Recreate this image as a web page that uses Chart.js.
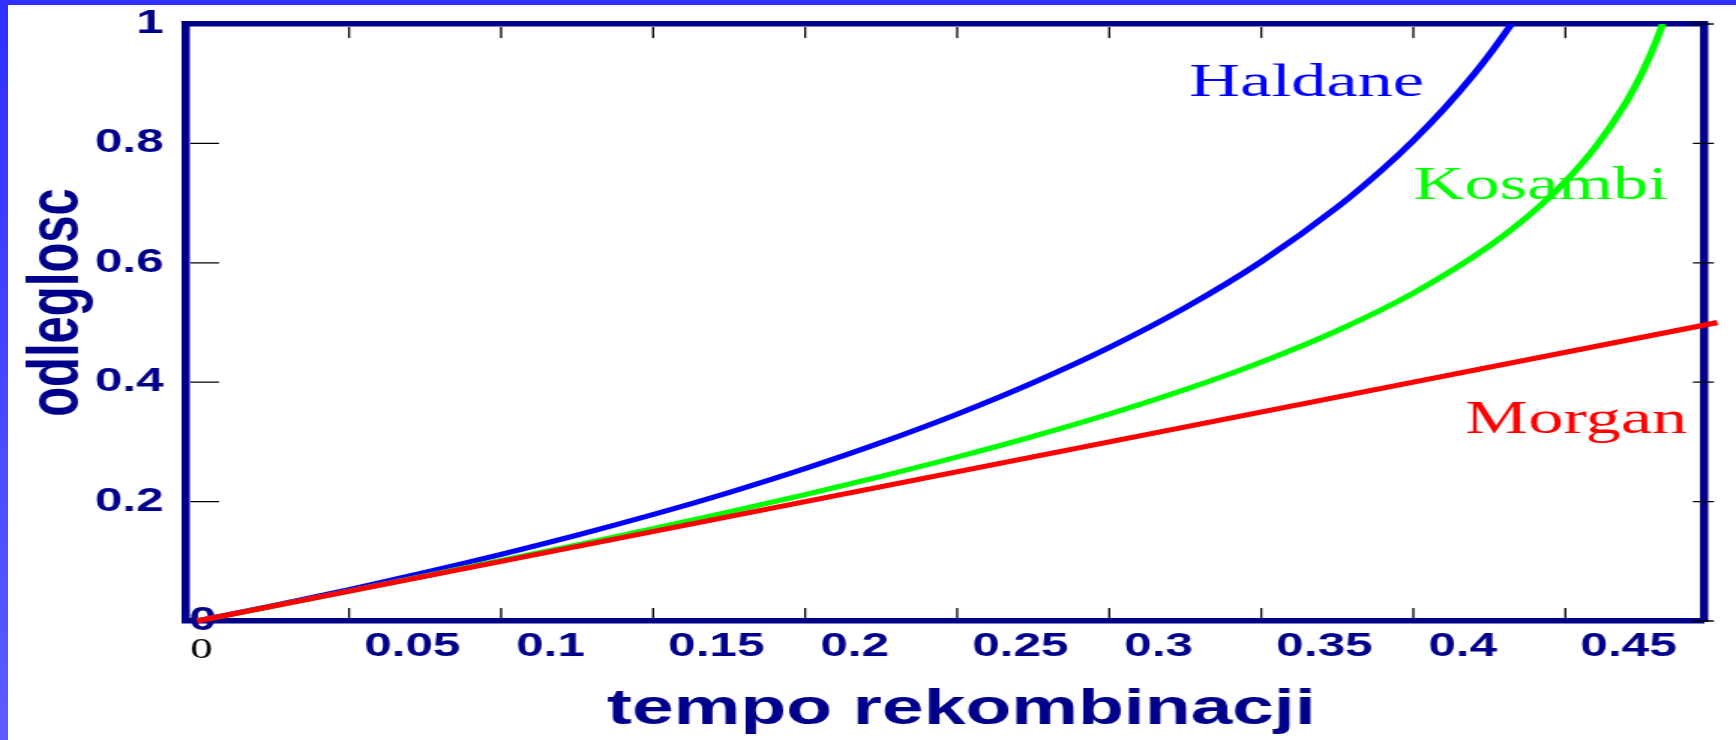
<!DOCTYPE html>
<html>
<head>
<meta charset="utf-8">
<script src="https://cdn.jsdelivr.net/npm/chart.js@4.4.1/dist/chart.umd.min.js"></script>
<style>
  html, body { margin: 0; padding: 0; background: #fff; overflow: hidden; }
  #pasekGora { position: absolute; left: 0; top: 0; width: 1736px; height: 5px; background: #2f2fff; z-index: 2; }
  #pasekLewy { position: absolute; left: 0; top: 0; width: 8px; height: 740px; background: linear-gradient(#2f2fff, #5c5cff); z-index: 2; }
  /* wykres rozciagniety w poziomie, jak w oryginale */
  #ramka { position: absolute; left: 0; top: 0; width: 1157px; height: 740px; transform: scaleX(1.5004); transform-origin: 0 0; }
</style>
</head>
<body>
<div id="pasekGora"></div>
<div id="pasekLewy"></div>
<div id="ramka"><canvas id="wykres" width="1157" height="740"></canvas></div>
<script>
// Dane
const nazwy = ['Haldane', 'Kosambi', 'Morgan'];

const tempoHaldane = [0, 0.025, 0.05, 0.075, 0.1, 0.125, 0.15, 0.175, 0.2, 0.225, 0.25, 0.275, 0.3, 0.325, 0.35, 0.375, 0.39, 0.4, 0.41, 0.42, 0.425, 0.4323];
const odlegloscHaldane = [0, 0.0256, 0.0527, 0.0813, 0.1116, 0.1438, 0.1783, 0.2154, 0.2554, 0.2989, 0.3466, 0.3993, 0.4581, 0.5249, 0.6020, 0.6931, 0.7571, 0.8047, 0.8574, 0.9163, 0.9486, 1.0];

const tempoKosambi = [0, 0.025, 0.05, 0.075, 0.1, 0.125, 0.15, 0.175, 0.2, 0.225, 0.25, 0.275, 0.3, 0.325, 0.35, 0.375, 0.4, 0.425, 0.44, 0.45, 0.46, 0.47, 0.475, 0.48, 0.482];
const odlegloscKosambi = [0, 0.0250, 0.0502, 0.0756, 0.1014, 0.1277, 0.1548, 0.1827, 0.2118, 0.2424, 0.2747, 0.3092, 0.3466, 0.3877, 0.4337, 0.4865, 0.5493, 0.6281, 0.6879, 0.7361, 0.7945, 0.8690, 0.9159, 0.9730, 1.0];

const tempoMorgan = [0, 0.1, 0.2, 0.3, 0.4, 0.5];
const odlegloscMorgan = [0, 0.1, 0.2, 0.3, 0.4, 0.5];

const podzialkaX = [0, 0.05, 0.1, 0.15, 0.2, 0.25, 0.3, 0.35, 0.4, 0.45];
const podzialkaY = [0, 0.2, 0.4, 0.6, 0.8, 1];

const tytulX = 'tempo rekombinacji';
const tytulY = 'odleglosc';

const granat = '#00008b';
const kolory = ['#0000ff', '#00ff00', '#ff0000'];

// Zamienia dwie listy na punkty {x, y}
function punkty(xs, ys) {
    return xs.map((x, i) => ({ x: x, y: ys[i] }));
}

// Kreski podzialki, zera w rogu, tytuly osi i podpisy krzywych
const dodatki = {
    id: 'dodatki',
    beforeDatasetsDraw(chart) {
        const ctx = chart.ctx;
        const { x, y } = chart.scales;
        const { left, right, top, bottom } = chart.chartArea;
        ctx.save();
        ctx.strokeStyle = '#000';
        ctx.lineWidth = 1.3;
        ctx.beginPath();
        podzialkaX.forEach(v => {
            const px = x.getPixelForValue(v);
            ctx.moveTo(px, bottom - 3);
            ctx.lineTo(px, bottom - 13);
            if (v > 0) {
                ctx.moveTo(px, top + 3);
                ctx.lineTo(px, top + 14);
            }
        });
        podzialkaY.forEach(v => {
            const py = y.getPixelForValue(v);
            if (v > 0 && v < 1) {
                ctx.moveTo(left + 3, py);
                ctx.lineTo(left + 22, py);
            }
            ctx.moveTo(right - 7, py);
            ctx.lineTo(right + 7, py);
        });
        ctx.stroke();

        // zero osi Y i zero osi X przy poczatku ukladu
        ctx.textAlign = 'center';
        ctx.textBaseline = 'middle';
        ctx.fillStyle = granat;
        ctx.font = 'bold 33px "Liberation Sans"';
        ctx.fillText('0', x.getPixelForValue(0) + 4, y.getPixelForValue(0));
        ctx.fillStyle = '#000';
        ctx.font = '30px "Liberation Serif"';
        ctx.fillText('0', x.getPixelForValue(0) + 3, y.getPixelForValue(0) + 29);

        // tytuly osi
        ctx.fillStyle = granat;
        ctx.textBaseline = 'alphabetic';
        ctx.font = 'bold 50px "Liberation Sans"';
        ctx.fillText(tytulX, (left + right) / 2 + 11, bottom + 103);
        ctx.translate(52, (top + bottom) / 2 - 20);
        ctx.rotate(-Math.PI / 2);
        ctx.font = 'bold 49px "Liberation Sans"';
        ctx.fillText(tytulY, 0, 0);
        ctx.restore();
    },
    afterDatasetsDraw(chart) {
        const ctx = chart.ctx;
        const { x, y } = chart.scales;
        const miejsca = [[0.3263, 0.879], [0.40, 0.707], [0.4171, 0.315]];
        ctx.save();
        ctx.font = '47px "Liberation Serif"';
        ctx.textAlign = 'left';
        ctx.textBaseline = 'alphabetic';
        nazwy.forEach((n, i) => {
            ctx.fillStyle = kolory[i];
            ctx.fillText(n, x.getPixelForValue(miejsca[i][0]), y.getPixelForValue(miejsca[i][1]));
        });
        ctx.restore();
    }
};

const fontOsi = { family: 'Liberation Sans', weight: 'bold', size: 33 };

const wykres = new Chart(document.getElementById('wykres'), {
    type: 'line',
    data: {
        datasets: [
            {
                label: nazwy[0],
                data: punkty(tempoHaldane, odlegloscHaldane),
                borderColor: kolory[0],
                borderWidth: 5,
                pointRadius: 0,
                cubicInterpolationMode: 'monotone',
                order: 3
            },
            {
                label: nazwy[1],
                data: punkty(tempoKosambi, odlegloscKosambi),
                borderColor: kolory[1],
                borderWidth: 5,
                pointRadius: 0,
                cubicInterpolationMode: 'monotone',
                order: 2
            },
            {
                label: nazwy[2],
                data: punkty(tempoMorgan, odlegloscMorgan),
                borderColor: kolory[2],
                borderWidth: 5,
                pointRadius: 0,
                clip: false,
                order: 1
            }
        ]
    },
    options: {
        responsive: false,
        animation: false,
        devicePixelRatio: 1,
        layout: { padding: 0 },
        plugins: {
            legend: { display: false },
            tooltip: { enabled: false }
        },
        scales: {
            x: {
                type: 'linear',
                position: 'bottom',
                min: -0.0036,
                max: 0.4954,
                afterBuildTicks: (skala) => { skala.ticks = podzialkaX.map(v => ({ value: v })); },
                afterFit: (skala) => { skala.height = 119; },
                grid: { display: false, drawTicks: false },
                border: { color: granat, width: 5.5 },
                ticks: {
                    autoSkip: false,
                    maxRotation: 0,
                    align: 'start',
                    labelOffset: 10,
                    padding: 6,
                    color: granat,
                    font: fontOsi,
                    callback: (v) => v === 0 ? '' : String(v)
                }
            },
            x2: {
                type: 'linear',
                position: 'top',
                min: -0.0036,
                max: 0.4954,
                afterFit: (skala) => { skala.height = 24; },
                grid: { display: false, drawTicks: false },
                border: { color: granat, width: 5.5 },
                ticks: { display: false }
            },
            y: {
                type: 'linear',
                position: 'left',
                min: 0,
                max: 1,
                afterBuildTicks: (skala) => { skala.ticks = podzialkaY.map(v => ({ value: v })); },
                afterFit: (skala) => {
                    skala.width = 124;
                    skala.paddingTop = 0;
                    skala.paddingBottom = 0;
                },
                grid: { display: false, drawTicks: false },
                border: { color: granat, width: 5.5 },
                ticks: {
                    padding: 15,
                    color: granat,
                    font: fontOsi,
                    callback: (v) => v === 0 ? '' : String(v)
                }
            },
            y2: {
                type: 'linear',
                position: 'right',
                min: 0,
                max: 1,
                afterFit: (skala) => { skala.width = 21.7; },
                grid: { display: false, drawTicks: false },
                border: { color: granat, width: 5.5 },
                ticks: { display: false }
            }
        }
    },
    plugins: [dodatki]
});
</script>
</body>
</html>
